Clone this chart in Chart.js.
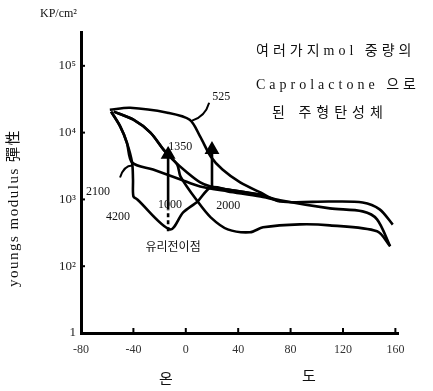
<!DOCTYPE html>
<html><head><meta charset="utf-8">
<script src="https://cdn.jsdelivr.net/npm/chart.js@4.4.0/dist/chart.umd.min.js"></script>
<style>html,body{margin:0;padding:0;background:#fff}#wrap{width:433px;height:391px;position:relative}</style>
</head><body><div id="wrap"><canvas id="c" width="433" height="391"></canvas></div>
<script>
// axis ticks
const xTicks = [-80, -40, 0, 40, 80, 120, 160];
const xTickLabels = ['-80', '-40', '0', '40', '80', '120', '160'];
const yTicks = [10, 100, 1000, 10000, 100000];
const yTickLabels = ['1', '10²', '10³', '10⁴', '10⁵'];

// curves: temperature (°C) and Young's modulus (kP/cm²)
const t525 = [-58, -42.5, -14, 3, 11, 19, 28, 41.5, 57, 72, 110, 135, 148, 158];
const e525 = [22000, 23600, 19900, 15600, 8700, 4400, 2800, 1800, 1270, 930, 930, 900, 710, 420];

const t1350 = [-55, -40, -27, -17, -10, 1, 11, 19, 32, 54.5, 72, 110, 135, 146, 156];
const e1350 = [20600, 15600, 10000, 5570, 3950, 2530, 1800, 1560, 1410, 1190, 970, 734, 662, 503, 199];

const t2100 = [-57, -50, -45, -41, -25, -4, 11, 32, 57, 72];
const e2100 = [20600, 12300, 7100, 3570, 2800, 1990, 1560, 1320, 1110, 950];

const t4200 = [-57, -50, -45, -41, -40.3, -40, -37, -12, -2, 9, 19, 32, 57];
const e4200 = [20600, 12300, 7100, 3570, 1990, 1110, 1000, 356, 640, 933, 1510, 1400, 1180];

const t2000 = [-55, -40, -27, -17, -6.6, -4, 9, 19, 32, 49, 59, 87, 110, 146, 156];
const e2000 = [20600, 15600, 10000, 5570, 3330, 2200, 933, 539, 356, 322, 382, 423, 409, 333, 199];

// arrows (first segment of arrow 1 is dashed)
const tArrow1 = [-13.5, -13.5, -13.5];
const eArrow1 = [333, 709, 4700];
const tArrow2 = [20, 20];
const eArrow2 = [1510, 5570];

// curve labels: text, temperature, modulus
const labelTexts = ['525', '1350', '1000', '2000', '2100', '4200', '유리전이점'];
const labelT = [27, -4.3, -12, 32.4, -67, -51.7, -9.7];
const labelE = [34400, 6180, 842, 813, 1320, 557, 186];

const legendLines = ['여러가지mol 중량의', 'Caprolactone 으로', '된 주형탄성체'];

const pts = (t, e) => t.map((v, i) => ({x: v, y: e[i]}));
const curve = (t, e) => ({data: pts(t, e), borderColor: '#000', borderWidth: 2.6, pointRadius: 0, tension: 0.3, fill: false});
const arrow = (t, e) => ({data: pts(t, e), borderColor: '#000', backgroundColor: '#000', borderWidth: 2.6,
  pointRadius: t.map((v, i) => i === t.length - 1 ? 6 : 0), pointStyle: 'triangle', tension: 0, fill: false,
  segment: {borderDash: c => (t.length > 2 && c.p0DataIndex === 0) ? [4, 3] : undefined}});

const SERIF = "'Liberation Serif', 'DejaVu Serif', 'Noto Sans CJK KR', serif";

const annot = {
  id: 'annot',
  afterDraw(chart) {
    const {ctx, scales: {x, y}} = chart;
    ctx.save();
    ctx.fillStyle = '#111';
    ctx.strokeStyle = '#000';
    // inward tick marks
    ctx.lineWidth = 2;
    xTicks.forEach(v => {
      const px = x.getPixelForValue(v);
      ctx.beginPath(); ctx.moveTo(px, y.bottom); ctx.lineTo(px, y.bottom - 5); ctx.stroke();
    });
    yTicks.forEach(v => {
      const py = y.getPixelForValue(v);
      ctx.beginPath(); ctx.moveTo(x.left, py); ctx.lineTo(x.left + 4, py); ctx.stroke();
    });
    // curve labels
    ctx.font = "12px " + SERIF;
    ctx.textAlign = 'center'; ctx.textBaseline = 'middle';
    labelTexts.forEach((s, i) => {
      ctx.fillText(s, x.getPixelForValue(labelT[i]), y.getPixelForValue(labelE[i]));
    });
    // leader lines
    ctx.lineWidth = 2;
    let ax = x.getPixelForValue(labelT[0]) - 12, ay = y.getPixelForValue(labelE[0]) + 6;
    let bx = x.getPixelForValue(4.8), by = y.getPixelForValue(15100);
    ctx.beginPath(); ctx.moveTo(ax, ay); ctx.quadraticCurveTo(ax - 4, by - 4, bx, by); ctx.stroke();
    ax = x.getPixelForValue(-50.2); ay = y.getPixelForValue(2130);
    bx = x.getPixelForValue(-41); by = y.getPixelForValue(3210);
    ctx.beginPath(); ctx.moveTo(ax, ay); ctx.quadraticCurveTo(ax + 4, by, bx, by); ctx.stroke();
    // legend text block
    ctx.font = "14px " + SERIF;
    ctx.textAlign = 'left';
    ctx.letterSpacing = '4px';
    ctx.fillText(legendLines[0], 256, 51);
    ctx.fillText(legendLines[1], 256, 85);
    ctx.letterSpacing = '5px';
    ctx.fillText(legendLines[2], 272, 113);
    ctx.letterSpacing = '0px';
    // unit
    ctx.font = "12px " + SERIF;
    ctx.fillText('KP/cm²', 40, 14);
    // axis titles
    ctx.font = "15px " + SERIF;
    ctx.textAlign = 'center';
    ctx.fillText('온', 166, 380);
    ctx.fillText('도', 309, 377);
    ctx.translate(14, 208);
    ctx.rotate(-Math.PI / 2);
    ctx.letterSpacing = '1.5px';
    ctx.fillText('youngs modulus 彈性', 0, 0);
    ctx.restore();
  }
};

new Chart(document.getElementById('c'), {
  type: 'line',
  data: {
    datasets: [
      curve(t525, e525), curve(t1350, e1350), curve(t2100, e2100),
      curve(t4200, e4200), curve(t2000, e2000),
      arrow(tArrow1, eArrow1), arrow(tArrow2, eArrow2)
    ]
  },
  options: {
    responsive: false, animation: false, devicePixelRatio: 1,
    layout: {padding: {left: 0, top: 32, right: 35, bottom: 0}},
    plugins: {legend: {display: false}, tooltip: {enabled: false}, title: {display: false}},
    scales: {
      x: {
        type: 'linear', min: -80, max: 162,
        grid: {display: false, drawTicks: false},
        border: {display: true, width: 3, color: '#000'},
        afterBuildTicks: s => { s.ticks = xTicks.map(v => ({value: v})); },
        afterFit: s => { s.height = 58; },
        ticks: {padding: 10, color: '#333', font: {family: SERIF, size: 12},
          callback: v => xTickLabels[xTicks.indexOf(v)]}
      },
      y: {
        type: 'logarithmic', min: 10, max: 321000,
        grid: {display: false, drawTicks: false},
        border: {display: true, width: 3, color: '#000'},
        afterBuildTicks: s => { s.ticks = yTicks.map(v => ({value: v})); },
        afterFit: s => { s.width = 81; },
        ticks: {padding: 5, color: '#222', font: {family: SERIF, size: 13},
          callback: v => yTickLabels[yTicks.indexOf(v)]}
      }
    }
  },
  plugins: [annot]
});
</script></body></html>
